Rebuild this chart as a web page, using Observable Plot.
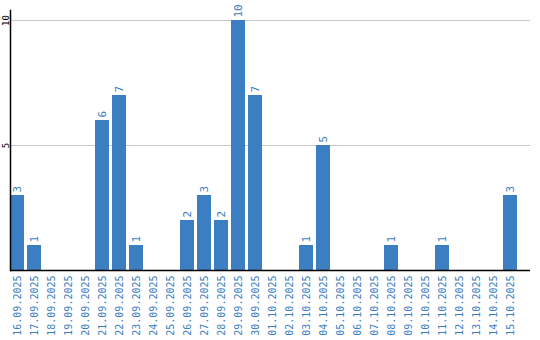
<!DOCTYPE html>
<html>
<head>
<meta charset="utf-8">
<script src="https://cdn.jsdelivr.net/npm/d3@7"></script>
<script src="https://cdn.jsdelivr.net/npm/@observablehq/plot@0.6"></script>
<style>
  html, body { margin: 0; padding: 0; background: #fff; }
  svg { display: block; }
</style>
</head>
<body>
<div id="chart"></div>
<script>
const dates = ["16.09.2025","17.09.2025","18.09.2025","19.09.2025","20.09.2025","21.09.2025","22.09.2025","23.09.2025","24.09.2025","25.09.2025","26.09.2025","27.09.2025","28.09.2025","29.09.2025","30.09.2025","01.10.2025","02.10.2025","03.10.2025","04.10.2025","05.10.2025","06.10.2025","07.10.2025","08.10.2025","09.10.2025","10.10.2025","11.10.2025","12.10.2025","13.10.2025","14.10.2025","15.10.2025"];
const counts = [3,1,0,0,0,6,7,1,0,0,2,3,2,10,7,0,0,1,5,0,0,0,1,0,0,1,0,0,0,3];
const yTicks = [5, 10];

const data = dates.map((d, i) => ({date: d, count: counts[i]}));
const blue = "#3b7ec2";

const chart = Plot.plot({
  width: 540,
  height: 340,
  marginLeft: 10,
  marginRight: 10,
  marginTop: 10,
  marginBottom: 70,
  style: {fontFamily: "DejaVu Sans Mono", fontSize: "10px", background: "#fff"},
  x: {domain: dates, range: [10, 520], paddingInner: 0.18, paddingOuter: 0, align: 0, label: null},
  y: {domain: [0, 10.4], label: null},
  marks: [
    Plot.ruleY(yTicks, {stroke: "#c8c8c8", strokeWidth: 1}),
    Plot.barY(data, {x: "date", y: "count", fill: blue}),
    Plot.text(data.filter(d => d.count > 0), {x: "date", y: "count", text: d => String(d.count), rotate: -90, textAnchor: "start", dy: -3, fill: blue, fontSize: 11}),
    Plot.axisX({tickSize: 0, tickRotate: -90, tickPadding: 5, fill: blue, fontSize: 10}),
    Plot.axisY({ticks: yTicks, tickSize: 0, tickRotate: -90, tickPadding: 2, fill: "#000", fontSize: 9}),
    Plot.frame({anchor: "left", stroke: "#000", strokeWidth: 1.5}),
    Plot.ruleY([0], {stroke: "#000", strokeWidth: 1.5})
  ]
});
document.getElementById("chart").appendChild(chart);
</script>
</body>
</html>
